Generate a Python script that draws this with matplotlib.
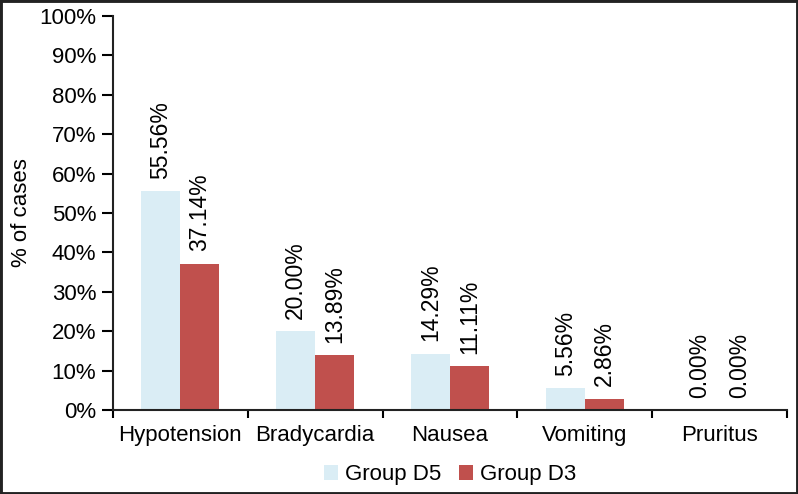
import numpy as np
import matplotlib
matplotlib.use("Agg")
import matplotlib.pyplot as plt
from matplotlib.patches import Rectangle

plt.rcParams['font.family'] = ['Liberation Sans', 'DejaVu Sans']

# datos
categories = ["Hypotension", "Bradycardia", "Nausea", "Vomiting", "Pruritus"]
group_d5 = [55.56, 20.00, 14.29, 5.56, 0.00]
group_d3 = [37.14, 13.89, 11.11, 2.86, 0.00]
series_names = ["Group D5", "Group D3"]
y_ticks = [0, 10, 20, 30, 40, 50, 60, 70, 80, 90, 100]

color_d5 = "#daedf5"
color_d3 = "#c0504d"
fs = 16

fig = plt.figure(figsize=(7.98, 4.94), dpi=100)
ax = fig.add_axes([0.1416, 0.170, 0.8446, 0.7976])

x = np.arange(len(categories))
w = 0.29
b1 = ax.bar(x - w / 2, group_d5, w, color=color_d5, label=series_names[0])
b2 = ax.bar(x + w / 2, group_d3, w, color=color_d3, label=series_names[1])

# etiquetas de valores (rotadas)
for bars, vals in [(b1, group_d5), (b2, group_d3)]:
    for rect, v in zip(bars, vals):
        ax.annotate(f"{v:.2f}%", (rect.get_x() + rect.get_width() / 2, v),
                    xytext=(0, 9), textcoords="offset points",
                    rotation=90, ha="center", va="bottom", fontsize=fs + 0.5)

ax.set_xlim(-0.5, 4.5)
ax.set_ylim(0, 100)
ax.set_yticks(y_ticks)
ax.set_yticklabels([f"{t}%" for t in y_ticks], fontsize=fs)
ax.set_xticks(x)
ax.set_xticklabels(categories, fontsize=fs)
ax.set_xticks(np.arange(-0.5, 5, 1), minor=True)
ax.tick_params(axis="x", which="major", length=0, pad=11)
ax.tick_params(axis="x", which="minor", length=6, width=1.5, direction="out")
ax.tick_params(axis="y", length=8, width=1.5, direction="out", pad=4)
ax.set_ylabel("% of cases", fontsize=fs, labelpad=5)

for s in ["top", "right"]:
    ax.spines[s].set_visible(False)
for s in ["left", "bottom"]:
    ax.spines[s].set_linewidth(1.5)
    ax.spines[s].set_color("#222222")

ax.legend(loc="upper center", bbox_to_anchor=(0.5, -0.087), ncol=2, frameon=False,
          fontsize=fs, handlelength=0.65, handleheight=0.65, handletextpad=0.3,
          columnspacing=0.8)

# marco de la figura
fig.patches.append(Rectangle((0, 0), 1, 1, transform=fig.transFigure, fill=False,
                             edgecolor="#222222", linewidth=3.5))

fig.savefig("out.png", dpi=100)
